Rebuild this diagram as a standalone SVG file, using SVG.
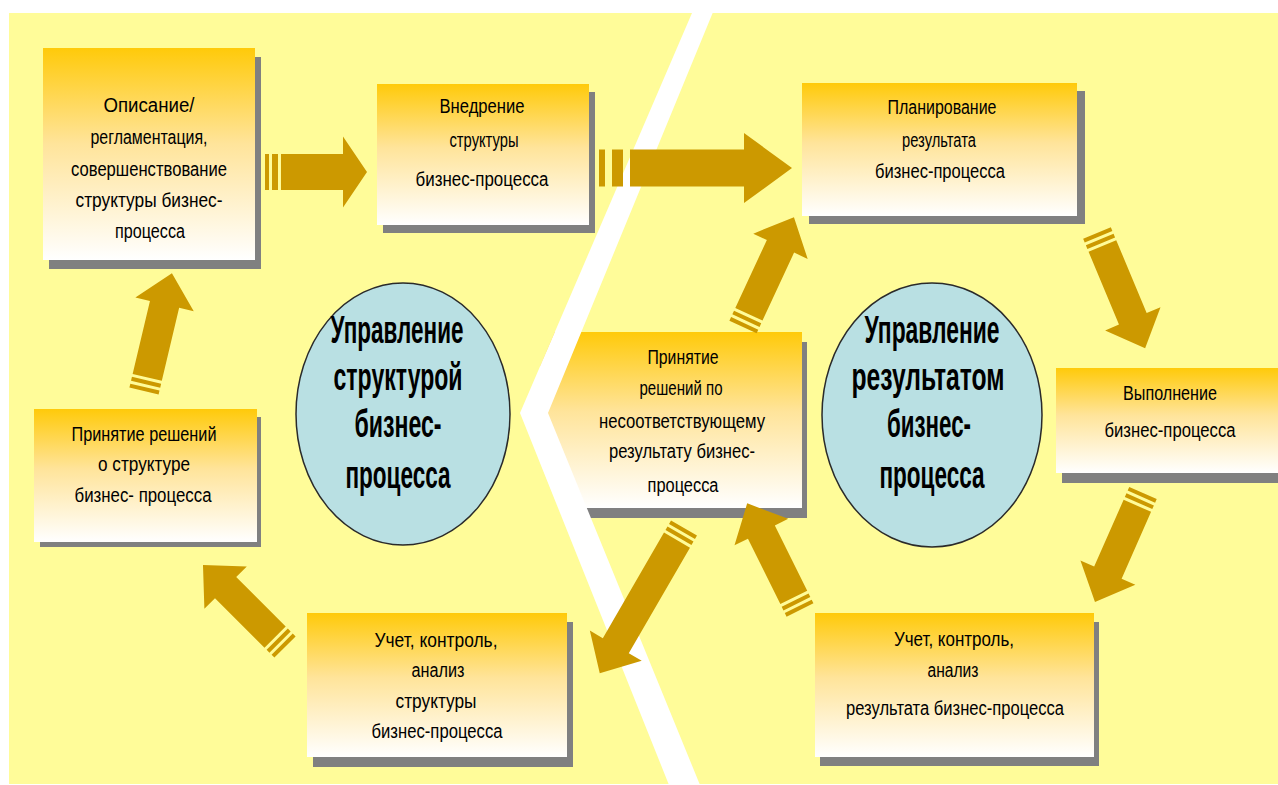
<svg xmlns="http://www.w3.org/2000/svg" width="1278" height="785" viewBox="0 0 1278 785">
<defs>
<linearGradient id="bg" x1="0" y1="0" x2="0" y2="1">
<stop offset="0" stop-color="#FFCA0A"/>
<stop offset="0.45" stop-color="#FFE49A"/>
<stop offset="1" stop-color="#FFFFFF"/>
</linearGradient>
<clipPath id="rightside">
<polygon points="692,13 520,413 672,785 1278,785 1278,0 698,0"/>
</clipPath>
<style>
.box{fill:url(#bg)}
.sh{fill:#808080}
.arr{fill:#CC9900}
.circ{fill:#B9E0E3;stroke:#2a2a2a;stroke-width:1.5}
.t{font-family:"Liberation Sans",Arial,sans-serif;font-size:20px;fill:#000;text-anchor:middle}
.ct{font-family:"Liberation Sans",Arial,sans-serif;font-size:38px;font-weight:bold;fill:#000;text-anchor:middle}
</style>
</defs>
<rect x="0" y="0" width="1278" height="785" fill="#FFFFFF"/>
<rect x="9" y="13" width="1269" height="771" fill="#FFFC99"/>

<g id="n-opisanie">
<rect class="sh" x="49" y="57" width="212" height="212"/>
<rect class="box" x="43" y="48" width="212" height="212"/>
<text class="t" x="149" y="112" textLength="91" lengthAdjust="spacingAndGlyphs">Описание/</text>
<text class="t" x="149" y="144" textLength="117" lengthAdjust="spacingAndGlyphs">регламентация,</text>
<text class="t" x="149" y="176" textLength="156" lengthAdjust="spacingAndGlyphs">совершенствование</text>
<text class="t" x="149" y="207" textLength="147" lengthAdjust="spacingAndGlyphs">структуры бизнес-</text>
<text class="t" x="150" y="238" textLength="70" lengthAdjust="spacingAndGlyphs">процесса</text>
</g>

<g id="n-vnedrenie">
<rect class="sh" x="383" y="92" width="212" height="141"/>
<rect class="box" x="377" y="84" width="212" height="141"/>
<text class="t" x="482" y="113" textLength="85" lengthAdjust="spacingAndGlyphs">Внедрение</text>
<text class="t" x="484" y="147" textLength="69" lengthAdjust="spacingAndGlyphs">структуры</text>
<text class="t" x="482" y="186" textLength="133" lengthAdjust="spacingAndGlyphs">бизнес-процесса</text>
</g>

<g id="n-planirovanie">
<rect class="sh" x="809" y="91" width="276" height="133"/>
<rect class="box" x="802" y="83" width="275" height="133"/>
<text class="t" x="942" y="114" textLength="109" lengthAdjust="spacingAndGlyphs">Планирование</text>
<text class="t" x="939" y="147" textLength="74" lengthAdjust="spacingAndGlyphs">результата</text>
<text class="t" x="940" y="178" textLength="130" lengthAdjust="spacingAndGlyphs">бизнес-процесса</text>
</g>

<g id="n-vypolnenie">
<rect class="sh" x="1062" y="377" width="240" height="106"/>
<rect class="box" x="1056" y="368" width="240" height="105"/>
<text class="t" x="1170" y="400" textLength="94" lengthAdjust="spacingAndGlyphs">Выполнение</text>
<text class="t" x="1170" y="437" textLength="131" lengthAdjust="spacingAndGlyphs">бизнес-процесса</text>
</g>

<g id="n-uchet-rezultat">
<rect class="sh" x="820" y="622" width="279" height="144"/>
<rect class="box" x="815" y="613" width="279" height="144"/>
<text class="t" x="954" y="646" textLength="120" lengthAdjust="spacingAndGlyphs">Учет, контроль,</text>
<text class="t" x="953" y="677" textLength="51" lengthAdjust="spacingAndGlyphs">анализ</text>
<text class="t" x="955" y="715" textLength="218" lengthAdjust="spacingAndGlyphs">результата бизнес-процесса</text>
</g>

<g id="n-uchet-struktura">
<rect class="sh" x="313" y="622" width="260" height="145"/>
<rect class="box" x="307" y="613" width="260" height="144"/>
<text class="t" x="436" y="647" textLength="123" lengthAdjust="spacingAndGlyphs">Учет, контроль,</text>
<text class="t" x="438" y="677" textLength="53" lengthAdjust="spacingAndGlyphs">анализ</text>
<text class="t" x="436" y="708" textLength="81" lengthAdjust="spacingAndGlyphs">структуры</text>
<text class="t" x="437" y="738" textLength="131" lengthAdjust="spacingAndGlyphs">бизнес-процесса</text>
</g>

<g id="n-prinyatie-struktura">
<rect class="sh" x="40" y="417" width="221" height="130"/>
<rect class="box" x="34" y="409" width="223" height="133"/>
<text class="t" x="144" y="441" textLength="145" lengthAdjust="spacingAndGlyphs">Принятие решений</text>
<text class="t" x="144" y="471" textLength="92" lengthAdjust="spacingAndGlyphs">о структуре</text>
<text class="t" x="143" y="502" textLength="137" lengthAdjust="spacingAndGlyphs">бизнес- процесса</text>
</g>

<g id="n-prinyatie-rezultat">
<g clip-path="url(#rightside)">
<rect class="sh" x="556" y="342" width="251" height="176"/>
<rect class="box" x="540" y="332" width="262" height="176"/>
</g>
<text class="t" x="683" y="364" textLength="71" lengthAdjust="spacingAndGlyphs">Принятие</text>
<text class="t" x="681" y="395" textLength="83" lengthAdjust="spacingAndGlyphs">решений по</text>
<text class="t" x="682" y="428" textLength="166" lengthAdjust="spacingAndGlyphs">несоответствующему</text>
<text class="t" x="682" y="458" textLength="146" lengthAdjust="spacingAndGlyphs">результату бизнес-</text>
<text class="t" x="683" y="492" textLength="71" lengthAdjust="spacingAndGlyphs">процесса</text>
</g>

<g id="n-upr-struktura">
<ellipse class="circ" cx="403" cy="414" rx="107" ry="131"/>
<text class="ct" x="397" y="343" textLength="133" lengthAdjust="spacingAndGlyphs">Управление</text>
<text class="ct" x="398" y="390" textLength="129" lengthAdjust="spacingAndGlyphs">структурой</text>
<text class="ct" x="398" y="437" textLength="87" lengthAdjust="spacingAndGlyphs">бизнес-</text>
<text class="ct" x="398" y="488" textLength="105" lengthAdjust="spacingAndGlyphs">процесса</text>
</g>

<g id="n-upr-rezultat">
<ellipse class="circ" cx="932" cy="415" rx="110" ry="132"/>
<text class="ct" x="932" y="343" textLength="135" lengthAdjust="spacingAndGlyphs">Управление</text>
<text class="ct" x="928" y="390" textLength="153" lengthAdjust="spacingAndGlyphs">результатом</text>
<text class="ct" x="929" y="437" textLength="84" lengthAdjust="spacingAndGlyphs">бизнес-</text>
<text class="ct" x="932" y="488" textLength="105" lengthAdjust="spacingAndGlyphs">процесса</text>
</g>

<polygon id="divider" fill="#FFFFFF" points="698,0 712,0 718,0 548,413 700,785 669,785 520,413 692,13"/>

<g id="connectors">
<g transform="translate(265,172)"><path class="arr" d="M0,-18h4v36h-4Z M7,-18h6v36h-6Z M16,-18H78V-35.5L102,0L78,35.5V18H16Z"/></g>
<g transform="translate(599,168)"><path class="arr" d="M0,-18.5h6v37h-6Z M13,-18.5h11v37h-11Z M31,-18.5H145V-35L193,0L145,35V18.5H31Z"/></g>
<g transform="translate(144,391) rotate(-76.65)"><path class="arr" d="M0,-15h4v30h-4Z M7,-15h4v30h-4Z M14,-15H89V-30L121,0L89,30V15H14Z"/></g>
<g transform="translate(285,647) rotate(-135)"><path class="arr" d="M0,-15h4v30h-4Z M7,-15h4v30h-4Z M14,-15H84V-30L116,0L84,30V15H14Z"/></g>
<g transform="translate(743,327) rotate(-65.1)"><path class="arr" d="M0,-15h4v30h-4Z M7,-15h4v30h-4Z M14,-15H89V-30L121,0L89,30V15H14Z"/></g>
<g transform="translate(1097,233) rotate(67.35)"><path class="arr" d="M0,-15h4v30h-4Z M7,-15h4v30h-4Z M14,-15H93V-30L125,0L93,30V15H14Z"/></g>
<g transform="translate(1143,493) rotate(113.8)"><path class="arr" d="M0,-15h4v30h-4Z M7,-15h4v30h-4Z M14,-15H87V-30L119,0L87,30V15H14Z"/></g>
<g transform="translate(684,528) rotate(120.1)"><path class="arr" d="M0,-15h4v30h-4Z M7,-15h4v30h-4Z M14,-15H136V-30L168,0L136,30V15H14Z"/></g>
<g transform="translate(800,610) rotate(-116.35)"><path class="arr" d="M0,-15h4v30h-4Z M7,-15h4v30h-4Z M14,-15H87V-30L119,0L87,30V15H14Z"/></g>
</g>
</svg>
